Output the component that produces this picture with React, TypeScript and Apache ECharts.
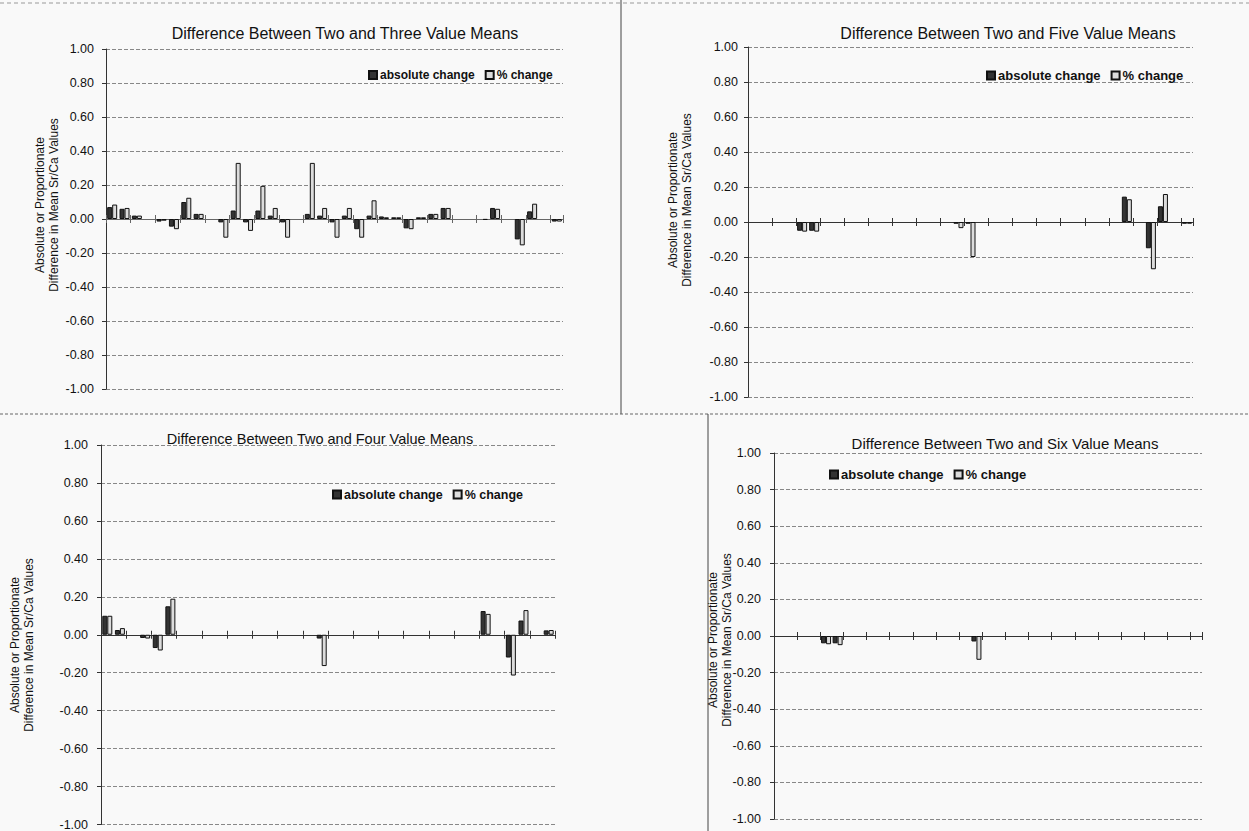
import React, { useEffect, useRef } from "react";
import * as echarts from "echarts";

// ---------- data ----------
const cats37 = Array.from({ length: 37 }, (_, i) => String(i + 1));
const cats36 = Array.from({ length: 36 }, (_, i) => String(i + 1));

const titles = [
  "Difference Between Two and Three Value Means",
  "Difference Between Two and Five Value Means",
  "Difference Between Two and Four Value Means",
  "Difference Between Two and Six Value Means",
];
const legendNames = ["absolute change", "% change"];
const yAxisTitle = ["Absolute or Proportionate", "Difference in Mean Sr/Ca Values"];

// Two vs Three
const threeAbs = [0.07, 0.06, 0.02, 0, -0.015, -0.045, 0.1, 0.03, 0, -0.02, 0.05, -0.02, 0.05, 0.02, -0.02, 0, 0.03, 0.02, -0.02, 0.02, -0.06, 0.02, 0.015, 0.01, -0.055, 0.01, 0.03, 0.065, 0, 0, 0, 0.065, 0, -0.12, 0.045, 0, -0.015];
const threePct = [0.085, 0.065, 0.02, 0, -0.01, -0.06, 0.125, 0.03, 0, -0.11, 0.33, -0.07, 0.195, 0.065, -0.11, 0, 0.33, 0.065, -0.11, 0.065, -0.11, 0.11, 0.01, 0.01, -0.06, 0.01, 0.03, 0.065, 0, 0, -0.005, 0.06, 0, -0.155, 0.09, 0, -0.015];
// Two vs Five
const fiveAbs = [0, 0, 0, 0, -0.05, -0.05, 0, 0, 0, 0, 0, 0, 0, 0, 0, 0, 0, -0.01, -0.01, 0, 0, 0, 0, 0, 0, 0, 0, 0, 0, 0, 0, 0.145, 0, -0.15, 0.09, 0, -0.01];
const fivePct = [0, 0, 0, 0, -0.055, -0.055, 0, 0, 0, 0, 0, 0, 0, 0, 0, 0, 0, -0.035, -0.2, 0, 0, 0, 0, 0, 0, 0, 0, 0, 0, 0, 0, 0.13, 0, -0.27, 0.16, 0, -0.01];
// Two vs Four
const fourAbs = [0.1, 0.025, 0, -0.017, -0.07, 0.15, 0, 0, 0, 0, 0, 0, 0, 0, 0, 0, 0, -0.02, 0, 0, 0, 0, 0, 0, 0, 0, 0, 0, 0, 0, 0.125, 0, -0.12, 0.075, 0, 0.023];
const fourPct = [0.1, 0.035, 0, -0.02, -0.083, 0.19, 0, 0, 0, 0, 0, 0, 0, 0, 0, 0, 0, -0.165, 0, 0, 0, 0, 0, 0, 0, 0, 0, 0, 0, 0, 0.11, 0, -0.215, 0.13, 0, 0.025];
// Two vs Six
const sixAbs = [0, 0, 0, 0, -0.04, -0.04, 0, 0, 0, 0, 0, 0, 0, 0, 0, 0, 0, -0.03, 0, 0, 0, 0, 0, 0, 0, 0, 0, 0, 0, 0, 0, 0, 0, 0, 0, 0, 0];
const sixPct = [0, 0, 0, 0, -0.045, -0.05, 0, 0, 0, 0, 0, 0, 0, 0, 0, 0, 0, -0.13, 0, 0, 0, 0, 0, 0, 0, 0, 0, 0, 0, 0, 0, 0, 0, 0, 0, 0, 0];

// ---------- layout ----------
const panels = [
  { cats: cats37, abs: threeAbs, pct: threePct, grid: { left: 106, top: 49, width: 457, height: 340 }, titleX: 340, titleY: 20, titleSize: 16, legendX: 368, legendY: 69, legendSize: 12, nameX: 47, nameY: 205, labelMargin: 12, axisColor: "#666" },
  { cats: cats37, abs: fiveAbs, pct: fivePct, grid: { left: 748, top: 47, width: 445, height: 350 }, titleX: 1003, titleY: 20, titleSize: 16, legendX: 986, legendY: 69, legendSize: 13, nameX: 680, nameY: 200, labelMargin: 10, axisColor: "#333" },
  { cats: cats36, abs: fourAbs, pct: fourPct, grid: { left: 101, top: 445, width: 454, height: 383 }, titleX: 315, titleY: 426, titleSize: 14.5, legendX: 332, legendY: 488, legendSize: 12.5, nameX: 22, nameY: 645, labelMargin: 13, axisColor: "#333" },
  { cats: cats37, abs: sixAbs, pct: sixPct, grid: { left: 774, top: 453, width: 428, height: 366 }, titleX: 1000, titleY: 431, titleSize: 15, legendX: 829, legendY: 468, legendSize: 13, nameX: 720, nameY: 640, labelMargin: 13, axisColor: "#333" },
];

const FONT = "'Liberation Sans', Arial, sans-serif";

function fmt(v: number) {
  if (Math.abs(v) < 1e-9) return "0.00";
  return v.toFixed(2);
}
const nz = (arr: number[]) => arr.map((v) => (v === 0 ? null : v));

export default function App() {
  const ref = useRef<HTMLDivElement>(null);
  useEffect(() => {
    if (!ref.current) return;
    const chart = echarts.init(ref.current, undefined, { renderer: "svg" });

    const title: any[] = [];
    const legend: any[] = [];
    const grid: any[] = [];
    const xAxis: any[] = [];
    const yAxis: any[] = [];
    const series: any[] = [];
    const graphic: any[] = [];

    panels.forEach((p, i) => {
      title.push({
        text: titles[i],
        left: p.titleX,
        top: p.titleY,
        textAlign: "center",
        textStyle: { fontFamily: FONT, fontSize: p.titleSize, fontWeight: "normal", color: "#111" },
      });
      legend.push({
        data: legendNames,
        left: p.legendX,
        top: p.legendY,
        icon: "rect",
        itemWidth: 8,
        itemHeight: 8,
        itemGap: 10,
        padding: 0,
        textStyle: { fontFamily: FONT, fontSize: p.legendSize, fontWeight: "bold", color: "#111", padding: [0, 0, 0, -2] },
      });
      grid.push({ ...p.grid, containLabel: false });
      const baseX = {
        type: "category",
        gridIndex: i,
        data: p.cats,
        boundaryGap: true,
        axisTick: { show: true, length: 4, alignWithLabel: false, lineStyle: { color: p.axisColor } },
        axisLabel: { show: false },
        splitLine: { show: false },
      };
      xAxis.push({ ...baseX, position: "bottom", axisLine: { onZero: true, onZeroAxisIndex: i * 2, lineStyle: { color: p.axisColor, width: 1 } } });
      xAxis.push({ ...baseX, position: "top", axisLine: { onZero: true, onZeroAxisIndex: i * 2 + 1, lineStyle: { color: p.axisColor, width: 1 } } });
      yAxis.push({
        type: "value",
        gridIndex: i,
        position: "left",
        min: -1,
        max: 1,
        interval: 0.2,
        axisLine: { show: true, onZero: false, lineStyle: { color: "#333" } },
        axisTick: { show: true, length: 4, lineStyle: { color: "#333" } },
        axisLabel: { formatter: fmt, fontFamily: FONT, fontSize: 12.5, color: "#111", margin: p.labelMargin },
        splitLine: { show: true, lineStyle: { color: "#888", type: "dashed", width: 1 } },
      });
      yAxis.push({
        type: "value",
        gridIndex: i,
        position: "right",
        min: -1,
        max: 1,
        interval: 0.2,
        axisLine: { show: false, onZero: false },
        axisTick: { show: false },
        axisLabel: { show: false },
        splitLine: { show: false },
      });
      series.push({
        name: legendNames[0],
        type: "bar",
        xAxisIndex: i * 2,
        yAxisIndex: i * 2,
        data: nz(p.abs),
        barWidth: 5,
        barGap: "0%",
        itemStyle: { color: "#333", borderColor: "#111", borderWidth: 1 },
      });
      series.push({
        name: legendNames[1],
        type: "bar",
        xAxisIndex: i * 2,
        yAxisIndex: i * 2,
        data: nz(p.pct),
        barWidth: 5,
        barGap: "0%",
        itemStyle: { color: "#dcdcdc", borderColor: "#111", borderWidth: 1 },
      });
      graphic.push({
        type: "text",
        x: p.nameX,
        y: p.nameY,
        rotation: Math.PI / 2,
        style: {
          text: yAxisTitle.join("\n"),
          fontFamily: FONT,
          fontSize: 12,
          lineHeight: 14,
          fill: "#111",
          align: "center",
          verticalAlign: "middle",
        },
      });
    });

    graphic.push(
      { type: "line", shape: { x1: 621, y1: 0, x2: 621, y2: 414 }, style: { stroke: "#444", lineWidth: 1 } },
      { type: "line", shape: { x1: 0, y1: 414, x2: 1249, y2: 414 }, style: { stroke: "#666", lineWidth: 1, lineDash: [3, 2] } },
      { type: "line", shape: { x1: 708, y1: 414, x2: 708, y2: 831 }, style: { stroke: "#444", lineWidth: 1 } },
      { type: "line", shape: { x1: 0, y1: 3, x2: 1249, y2: 3 }, style: { stroke: "#999", lineWidth: 1, lineDash: [4, 3] } }
    );

    chart.setOption({
      animation: false,
      backgroundColor: "#f9f9f9",
      title,
      legend,
      grid,
      xAxis,
      yAxis,
      series,
      graphic,
    });
    return () => chart.dispose();
  }, []);
  return <div ref={ref} style={{ position: "fixed", left: 0, top: 0, width: 1249, height: 831 }} />;
}
